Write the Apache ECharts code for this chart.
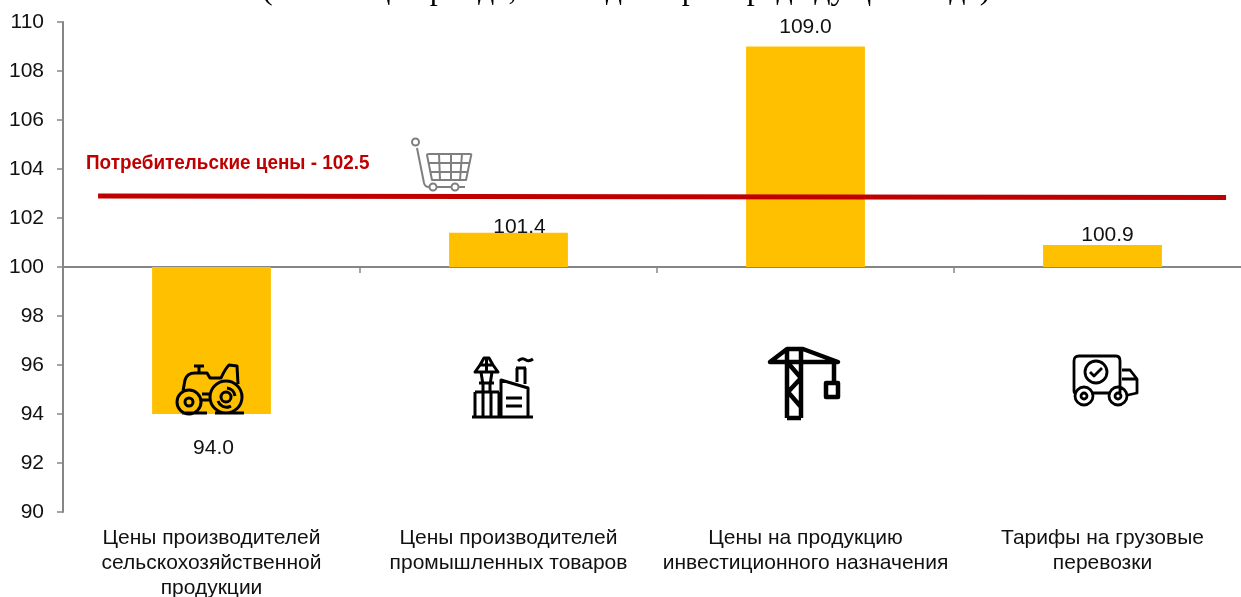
<!DOCTYPE html>
<html>
<head>
<meta charset="utf-8">
<style>
html,body{margin:0;padding:0;background:#fff;overflow:hidden}
#main{width:1241px;height:597px}
</style>
<script src="https://cdn.jsdelivr.net/npm/echarts@6/dist/echarts.min.js"></script>
</head>
<body>
<div id="main"></div>
<script>
var categories = ['Цены производителей\nсельскохозяйственной\nпродукции', 'Цены производителей\nпромышленных товаров', 'Цены на продукцию\nинвестиционного назначения', 'Тарифы на грузовые\nперевозки'];
var values = [94.0, 101.4, 109.0, 100.9];
var base = 100;
// красная линия идёт чуть наклонно, как на картинке
var refLineX = [-0.382, 3.416];
var refLineY = [102.9, 102.84];
var refLabel = 'Потребительские цены - 102.5';
var titleText = '(на конец периода, в % к декабрю предыдущего года)';

// подписи значений стоят не по центру столбцов
var labelOffsets = [[2, 24], [11, 5], [0, -9], [5, 1]];

var font = '"Liberation Sans", Arial, sans-serif';
var myChart = echarts.init(document.getElementById('main'), null, {renderer: 'canvas'});

var tractor = 'M0 38 a12 12 0 1 0 24 0 a12 12 0 1 0 -24 0 M8 38 a4 4 0 1 0 8 0 a4 4 0 1 0 -8 0 ' +
    'M33 33 a16 16 0 1 0 32 0 a16 16 0 1 0 -32 0 M44 33 a5 5 0 1 0 10 0 a5 5 0 1 0 -10 0 ' +
    'M41 37 a9 9 0 0 0 13 5 M50 24 a9 9 0 0 1 8 8 ' +
    'M6 27 L8 16 Q10 9 18 9 L30 9 L33 14 L44 14 Q48 5 52 1 L60 2 L61 20 ' +
    'M25 30 L33 30 M24 36 L32 36 M22 9 L22 2 M17 2 L27 2 M5 49 L30 49 M38 49 L67 49';
var factory = 'M0 60 L61 60 M3 35 L3 60 M11 35 L11 60 M19 35 L19 60 M27 35 L27 60 M3 35 L27 35 ' +
    'M29 60 L29 23 L56 31 L56 60 M34 41 L50 41 M34 49 L50 49 ' +
    'M12 1 L17 1 L21 8 L26 15 L3 15 L8 8 Z M14.5 1 L14.5 15 M8 8 L21 8 ' +
    'M9 15 L11 28 L11 35 M20 15 L18 28 L18 35 M7 26 L22 26 ' +
    'M45 25 L45 11 M53 27 L53 11 M44 11 L54 11 M46 4 Q50 0 54 3 Q57 5 61 2';
var crane = 'M1 15 L18 2 L34 2 L69 15 Z M18 2 L18 71 M32 2 L32 71 M18 71 L32 71 ' +
    'M19 16 L32 31 L19 45 L32 60 M65 15 L65 36 M57 36 L69 36 L69 50 L57 50 Z';
var truck = 'M3 38 Q2 38 2 35 L2 6 Q2 1 7 1 L44 1 Q48 1 48 6 L48 38 M21 38 L37 38 ' +
    'M50 15 L58 15 L65 24 L65 38 L56 40 M50 24 L64 24 ' +
    'M3 41 a9 9 0 1 0 18 0 a9 9 0 1 0 -18 0 M9 41 a3 3 0 1 0 6 0 a3 3 0 1 0 -6 0 ' +
    'M37 41 a9 9 0 1 0 18 0 a9 9 0 1 0 -18 0 M43 41 a3 3 0 1 0 6 0 a3 3 0 1 0 -6 0 ' +
    'M13 17 a11 11 0 1 0 22 0 a11 11 0 1 0 -22 0 M18 17 L22 21 L30 13';
var cart = 'M1 4 a3.5 3.5 0 1 0 7 0 a3.5 3.5 0 1 0 -7 0 M6 10 L13 45 Q14 49 18 49 ' +
    'M16 17 Q16 16 18 16 L59 16 Q61 16 60 18 L55 42 L21 42 Z M17 25 L59 25 M19 34 L57 34 ' +
    'M28 16 L29 42 M40 16 L40 42 M51 16 L49 42 ' +
    'M18.5 49 a3.5 3.5 0 1 0 7 0 a3.5 3.5 0 1 0 -7 0 M40.5 49 a3.5 3.5 0 1 0 7 0 a3.5 3.5 0 1 0 -7 0 ' +
    'M26 49 L40 49 M48 49 L54 49';

// иконки: путь, левый верхний угол, цвет, толщина
var icons = [
    [tractor, 177, 364, '#000', 3],
    [factory, 472, 357, '#000', 3],
    [crane, 769, 347, '#000', 4.5],
    [truck, 1072, 355, '#000', 2.8],
    [cart, 411, 138, '#7f7f7f', 2]
];

var option = {
    animation: false,
    backgroundColor: '#fff',
    grid: {left: 63, top: 22, width: 1188, height: 490, containLabel: false, outerBoundsMode: 'none'},
    xAxis: [
        {
            type: 'category', data: categories, position: 'bottom',
            axisLine: {onZero: true, lineStyle: {color: '#868686', width: 2}},
            axisTick: {show: true, length: 6, lineStyle: {color: '#868686', width: 1.5}},
            axisLabel: {show: false}, splitLine: {show: false}
        },
        {
            type: 'category', data: categories, position: 'bottom',
            axisLine: {show: false, onZero: false}, axisTick: {show: false},
            axisLabel: {show: true, interval: 0, margin: 14, color: '#111', fontFamily: font, fontSize: 21, lineHeight: 25},
            splitLine: {show: false}
        },
        {type: 'value', min: -0.5, max: 3.5, show: false}
    ],
    yAxis: {
        type: 'value', min: 90 - base, max: 110 - base, interval: 2,
        axisLine: {show: true, onZero: false, lineStyle: {color: '#868686', width: 2}},
        axisTick: {show: true, length: 6, lineStyle: {color: '#868686', width: 1.5}},
        axisLabel: {
            color: '#111', fontFamily: font, fontSize: 21, margin: 19,
            formatter: function (v) { return v + base; }
        },
        splitLine: {show: false}
    },
    series: [
        {
            type: 'bar', xAxisIndex: 0, barWidth: '40%',
            itemStyle: {color: '#FFC000'},
            data: values.map(function (v, i) {
                return {
                    value: +(v - base).toFixed(1),
                    label: {
                        show: true, position: v < base ? 'bottom' : 'top', distance: 0,
                        offset: labelOffsets[i], color: '#111', fontFamily: font, fontSize: 21,
                        formatter: v.toFixed(1)
                    }
                };
            })
        },
        {
            type: 'line', xAxisIndex: 2, showSymbol: false, symbol: 'none', z: 5,
            lineStyle: {color: '#C00000', width: 5, cap: 'butt'},
            data: refLineX.map(function (x, i) { return [x, +(refLineY[i] - base).toFixed(2)]; })
        },
        {
            type: 'custom', coordinateSystem: 'none', z: 6, silent: true,
            data: icons.map(function (a, i) { return [i]; }),
            renderItem: function (params) {
                var a = icons[params.dataIndex];
                return {
                    type: 'path', x: a[1], y: a[2],
                    shape: {pathData: a[0]},
                    style: {fill: 'none', stroke: a[3], lineWidth: a[4], lineJoin: 'round'}
                };
            }
        }
    ],
    graphic: [
        {
            type: 'text', x: 86, y: 153, silent: true, scaleX: 0.9,
            style: {text: refLabel, fill: '#C00000', font: 'bold 21px ' + font}
        },
        {
            type: 'text', x: 262, y: -25, silent: true,
            style: {text: titleText, fill: '#000', font: '32px "Liberation Serif", serif'}
        }
    ]
};
myChart.setOption(option);
</script>
</body>
</html>
